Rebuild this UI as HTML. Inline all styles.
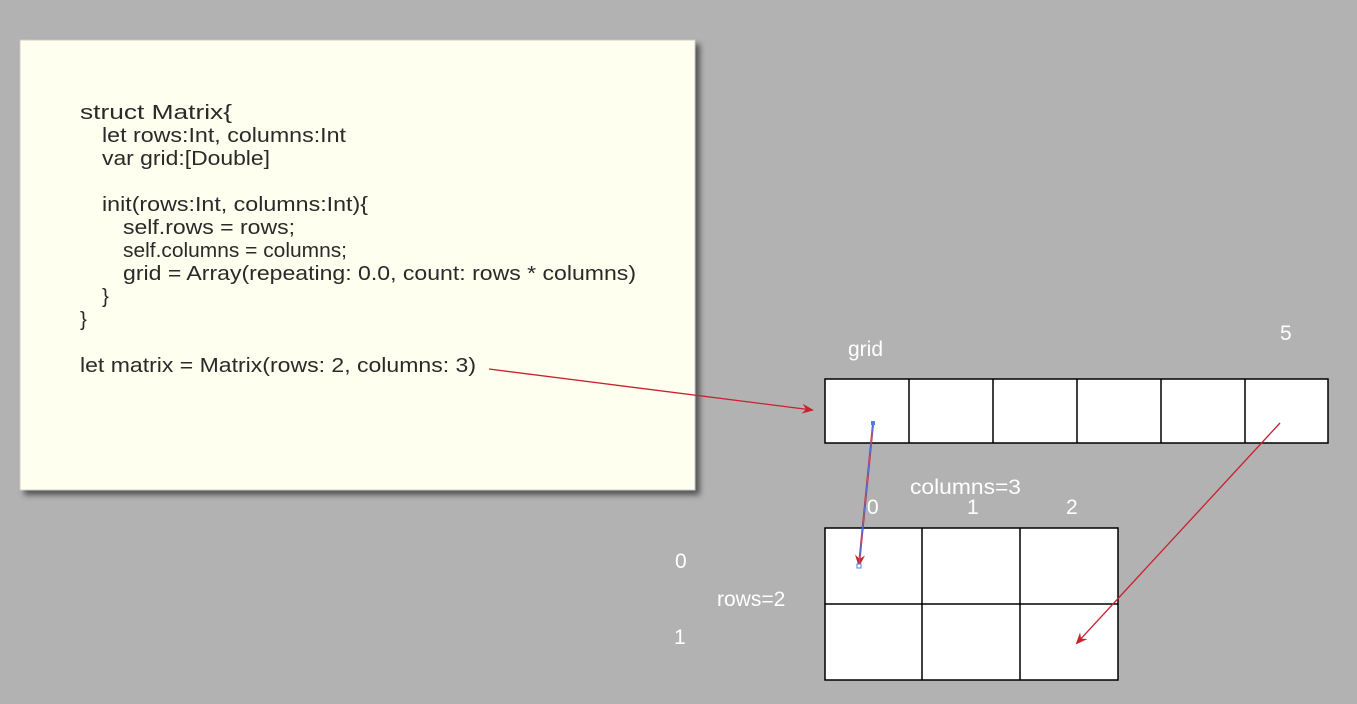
<!DOCTYPE html>
<html><head><style>
html,body{margin:0;padding:0;background:#b2b2b2;width:1357px;height:704px;overflow:hidden}
svg{display:block}
</style></head><body>
<svg width="1357" height="704" viewBox="0 0 1357 704" xmlns="http://www.w3.org/2000/svg">
<defs>
<filter id="sh" x="-5%" y="-5%" width="115%" height="115%"><feGaussianBlur stdDeviation="3"/></filter>
<marker id="ar" markerWidth="12" markerHeight="10" refX="10" refY="5" orient="auto" markerUnits="userSpaceOnUse"><path d="M0,0 L12,5 L0,10 L4,5 Z" fill="#c8202c"/></marker>
</defs>
<rect x="24" y="44" width="676" height="451" fill="#555" filter="url(#sh)"/>
<rect x="20" y="40" width="675" height="450" fill="#fffff0" stroke="#ccc" stroke-width="1"/>
<g font-family="Liberation Sans, sans-serif" font-size="20.5" fill="#2a2a2a">
<text x="80" y="119" textLength="152" lengthAdjust="spacingAndGlyphs">struct Matrix{</text>
<text x="102" y="142" textLength="244" lengthAdjust="spacingAndGlyphs">let rows:Int, columns:Int</text>
<text x="102" y="165" textLength="168" lengthAdjust="spacingAndGlyphs">var grid:[Double]</text>
<text x="102" y="211" textLength="266" lengthAdjust="spacingAndGlyphs">init(rows:Int, columns:Int){</text>
<text x="123" y="234" textLength="172" lengthAdjust="spacingAndGlyphs">self.rows = rows;</text>
<text x="123" y="257" textLength="224" lengthAdjust="spacingAndGlyphs">self.columns = columns;</text>
<text x="123" y="280" textLength="513" lengthAdjust="spacingAndGlyphs">grid = Array(repeating: 0.0, count: rows * columns)</text>
<text x="102" y="303">}</text>
<text x="80" y="326">}</text>
<text x="80" y="372" textLength="396" lengthAdjust="spacingAndGlyphs">let matrix = Matrix(rows: 2, columns: 3)</text>
</g>
<g fill="#fff" stroke="#000" stroke-width="1.5">
<rect x="825" y="379" width="503" height="64"/>
<rect x="825" y="528" width="293" height="152"/>
</g>
<g stroke="#000" stroke-width="1.5">
<line x1="909" y1="379" x2="909" y2="443"/><line x1="993" y1="379" x2="993" y2="443"/>
<line x1="1077" y1="379" x2="1077" y2="443"/><line x1="1161" y1="379" x2="1161" y2="443"/>
<line x1="1245" y1="379" x2="1245" y2="443"/>
<line x1="922" y1="528" x2="922" y2="680"/><line x1="1020" y1="528" x2="1020" y2="680"/>
<line x1="825" y1="604" x2="1118" y2="604"/>
</g>
<g font-family="Liberation Sans, sans-serif" font-size="21" fill="#fff">
<text x="848" y="356">grid</text>
<text x="1280" y="340">5</text>
<text x="910" y="494" textLength="111" lengthAdjust="spacingAndGlyphs">columns=3</text>
<text x="867" y="514">0</text>
<text x="967" y="514">1</text>
<text x="1066" y="514">2</text>
<text x="675" y="568">0</text>
<text x="674" y="644">1</text>
<text x="717" y="606">rows=2</text>
</g>
<line x1="489" y1="369" x2="812" y2="410" stroke="#c8202c" stroke-width="1.3" marker-end="url(#ar)"/>
<line x1="1280" y1="423" x2="1077" y2="643" stroke="#c8202c" stroke-width="1.3" marker-end="url(#ar)"/>
<line x1="873" y1="424" x2="859" y2="565" stroke="#c8202c" stroke-width="2" marker-end="url(#ar)"/>
<line x1="873" y1="424" x2="859" y2="565" stroke="#4a7cf0" stroke-width="1"/>
<rect x="871" y="421" width="4" height="4" fill="#4a7cf0"/>
<rect x="857" y="564" width="4" height="4" fill="#fff" stroke="#4a7cf0" stroke-width="1"/>
</svg>
</body></html>
